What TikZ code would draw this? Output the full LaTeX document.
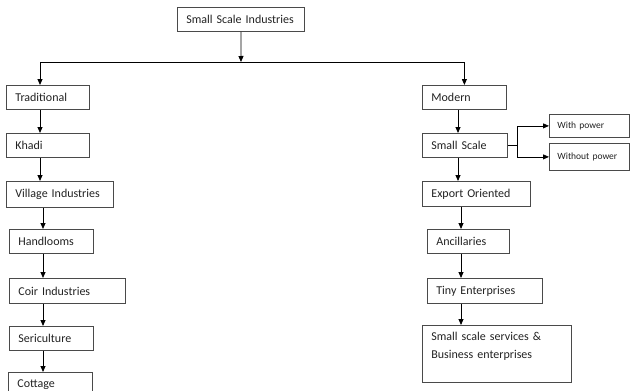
\documentclass[tikz,border=0pt]{standalone}
\usepackage{fontspec}
\setmainfont{Carlito}
\usetikzlibrary{arrows.meta}
\definecolor{boxgray}{HTML}{4A4A4A}
\definecolor{inkgray}{HTML}{222222}

\begin{document}
\begin{tikzpicture}[x=1pt,y=-1pt,>={Triangle[length=6pt,width=5pt]},
  box/.style={draw=boxgray,line width=0.8pt,anchor=north west,align=left,
    inner xsep=9pt,inner ysep=0pt,minimum height=24pt,text=inkgray,
    font=\fontsize{12}{14}\selectfont},
  side/.style={box,inner xsep=8pt,font=\fontsize{9.5}{11}\selectfont},
  link/.style={->,line width=0.8pt}]
  \useasboundingbox (0,0) rectangle (630,391);
  \clip (0,0) rectangle (630,391);
  \node[box,text width=109pt] (ssi) at (177,7) {Small Scale Industries};
  % traditional branch
  \node[box,text width=65pt] (trad) at (6,85) {Traditional};
  \node[box,text width=65pt] (khadi) at (6,133) {Khadi};
  \node[box,text width=89pt,minimum height=26pt] (village) at (6,181) {Village Industries};
  \node[box,text width=66pt] (hand) at (9,229) {Handlooms};
  \node[box,text width=98pt,minimum height=25pt] (coir) at (9,278) {Coir Industries};
  \node[box,text width=66pt] (seri) at (9,326) {Sericulture};
  \node[box,text width=66pt] (cottage) at (8,372) {Cottage};
  % modern branch
  \node[box,text width=66pt] (modern) at (422,85) {Modern};
  \node[box,text width=67pt] (small) at (422,133) {Small Scale};
  \node[box,text width=90pt,minimum height=25pt] (export) at (422,181) {Export Oriented};
  \node[box,text width=64pt] (anc) at (427,229) {Ancillaries};
  \node[box,text width=97pt,minimum height=25pt] (tiny) at (427,278) {Tiny Enterprises};
  \node[box,text width=131pt,minimum height=57pt,font=\fontsize{12}{18}\selectfont] (serv) at (422,325)
    {Small scale services \&\\Business enterprises\\\mbox{}};
  \node[side,text width=64pt,minimum height=23pt] (withp) at (549,114) {With power};
  \node[side,text width=64pt,minimum height=27pt] (without) at (549,143) {Without power};

  \coordinate (split) at (241,62);
  \draw[link] (ssi.south) -- (split);
  \draw[link] (split) -| ([xshift=34pt]trad.north west);
  \draw[link] (split) -| (modern.north);

  \draw[link] ([xshift=34pt]trad.south west) -- ([xshift=34pt]khadi.north west);
  \draw[link] ([xshift=34pt]khadi.south west) -- ([xshift=34pt]village.north west);
  \draw[link] ([xshift=37pt]village.south west) -- ([xshift=34pt]hand.north west);
  \draw[link] ([xshift=34pt]hand.south west) -- ([xshift=34pt]coir.north west);
  \draw[link] ([xshift=34pt]coir.south west) -- ([xshift=34pt]seri.north west);
  \draw[link] ([xshift=34pt]seri.south west) -- ([xshift=35pt]cottage.north west);

  \draw[link] ([xshift=36pt]modern.south west) -- ([xshift=36pt]small.north west);
  \draw[link] ([xshift=36pt]small.south west) -- ([xshift=36pt]export.north west);
  \draw[link] ([xshift=39pt]export.south west) -- ([xshift=34pt]anc.north west);
  \draw[link] ([xshift=34pt]anc.south west) -- ([xshift=34pt]tiny.north west);
  \draw[link] ([xshift=34pt]tiny.south west) -- ([xshift=39pt]serv.north west);

  \draw[line width=0.8pt] (small.east) -- ++(10,0) coordinate (fork);
  \draw[link] (fork) |- (withp.west);
  \draw[link] (fork) |- (without.west);
\end{tikzpicture}
\end{document}
